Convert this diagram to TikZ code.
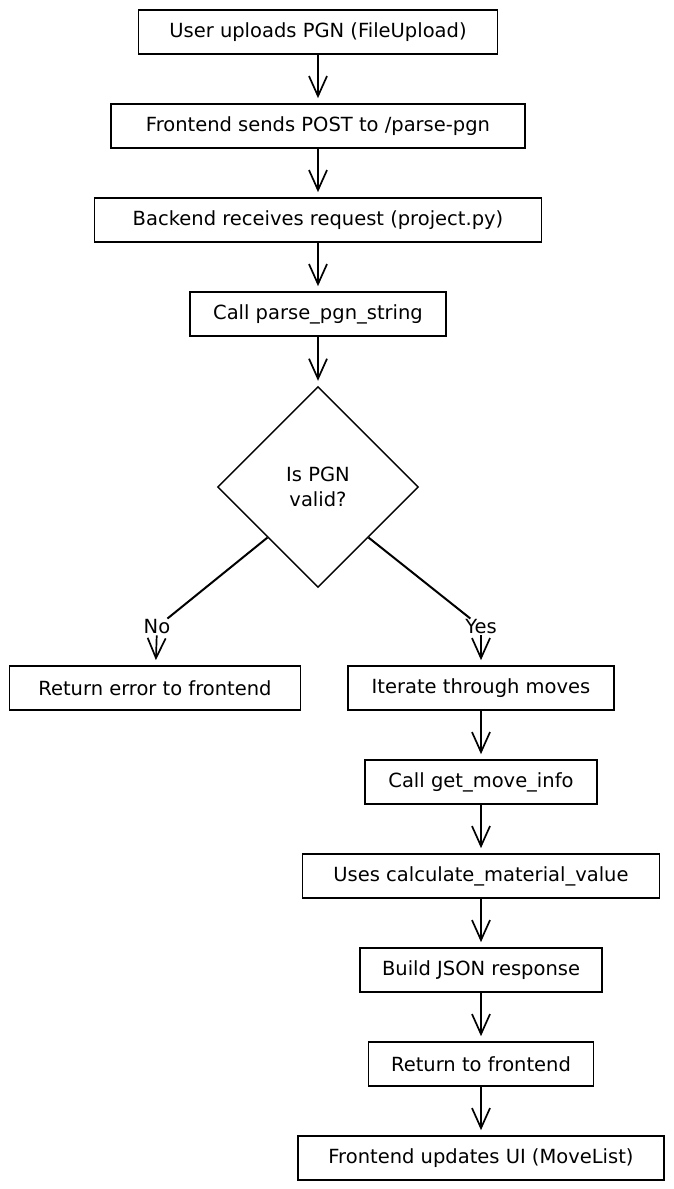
\documentclass[tikz,border=0pt]{standalone}
\usepackage{fontspec}
\setmainfont{DejaVu Sans}
\usetikzlibrary{arrows.meta}
\usetikzlibrary{shapes.geometric}

\begin{document}
\begin{tikzpicture}[x=1pt,y=-1pt,
	box/.style={shape=rectangle,draw,line width=1.7pt,minimum height=44pt,inner sep=2pt,font=\fontsize{19.5}{23}\selectfont},
	flow/.style={-{Straight Barb[length=20pt,width=18pt,line width=1.7pt]},line width=1.7pt,shorten >=5pt},
	lbl/.style={inner sep=1pt,font=\fontsize{19.5}{23}\selectfont}]
	\useasboundingbox (0,0) rectangle (673,1189);
	\draw (318,32) node (upload) [box,minimum width=359pt] {User uploads PGN (FileUpload)};
	\draw (318,126) node (send) [box,minimum width=414pt] {Frontend sends POST to /parse-pgn};
	\draw (318,220) node (recv) [box,minimum width=447pt] {Backend receives request (project.py)};
	\draw (318,314) node (parse) [box,minimum width=256pt] {Call parse\_pgn\_string};
	\draw (318,487) node (valid) [shape=diamond,draw,line width=1.4pt,minimum width=201pt,minimum height=201pt,inner sep=0pt,align=center,font=\fontsize{19.5}{25}\selectfont] {Is PGN\\valid?};
	\draw (155,688) node (error) [box,minimum width=291pt] {Return error to frontend};
	\draw (481,688) node (iter) [box,minimum width=266pt] {Iterate through moves};
	\draw (481,782) node (info) [box,minimum width=232pt] {Call get\_move\_info};
	\draw (481,876) node (material) [box,minimum width=357pt] {Uses calculate\_material\_value};
	\draw (481,970) node (json) [box,minimum width=242pt] {Build JSON response};
	\draw (481,1064) node (back) [box,minimum width=225pt] {Return to frontend};
	\draw (481,1158) node (update) [box,minimum width=366pt] {Frontend updates UI (MoveList)};
	\draw (157,627) node (no) [lbl] {No};
	\draw (481,627) node (yes) [lbl] {Yes};
	\draw [flow] (upload) -- (send);
	\draw [flow] (send) -- (recv);
	\draw [flow] (recv) -- (parse);
	\draw [flow] (parse) -- (valid);
	\draw [line width=2pt] (valid.south west) -- (no);
	\draw [flow] (no) -- (error);
	\draw [line width=2pt] (valid.south east) -- (yes);
	\draw [flow] (yes) -- (iter);
	\foreach \a/\b in {iter/info,info/material,material/json,json/back,back/update} {
		\draw [flow] (\a) -- (\b);
	}
\end{tikzpicture}
\end{document}
